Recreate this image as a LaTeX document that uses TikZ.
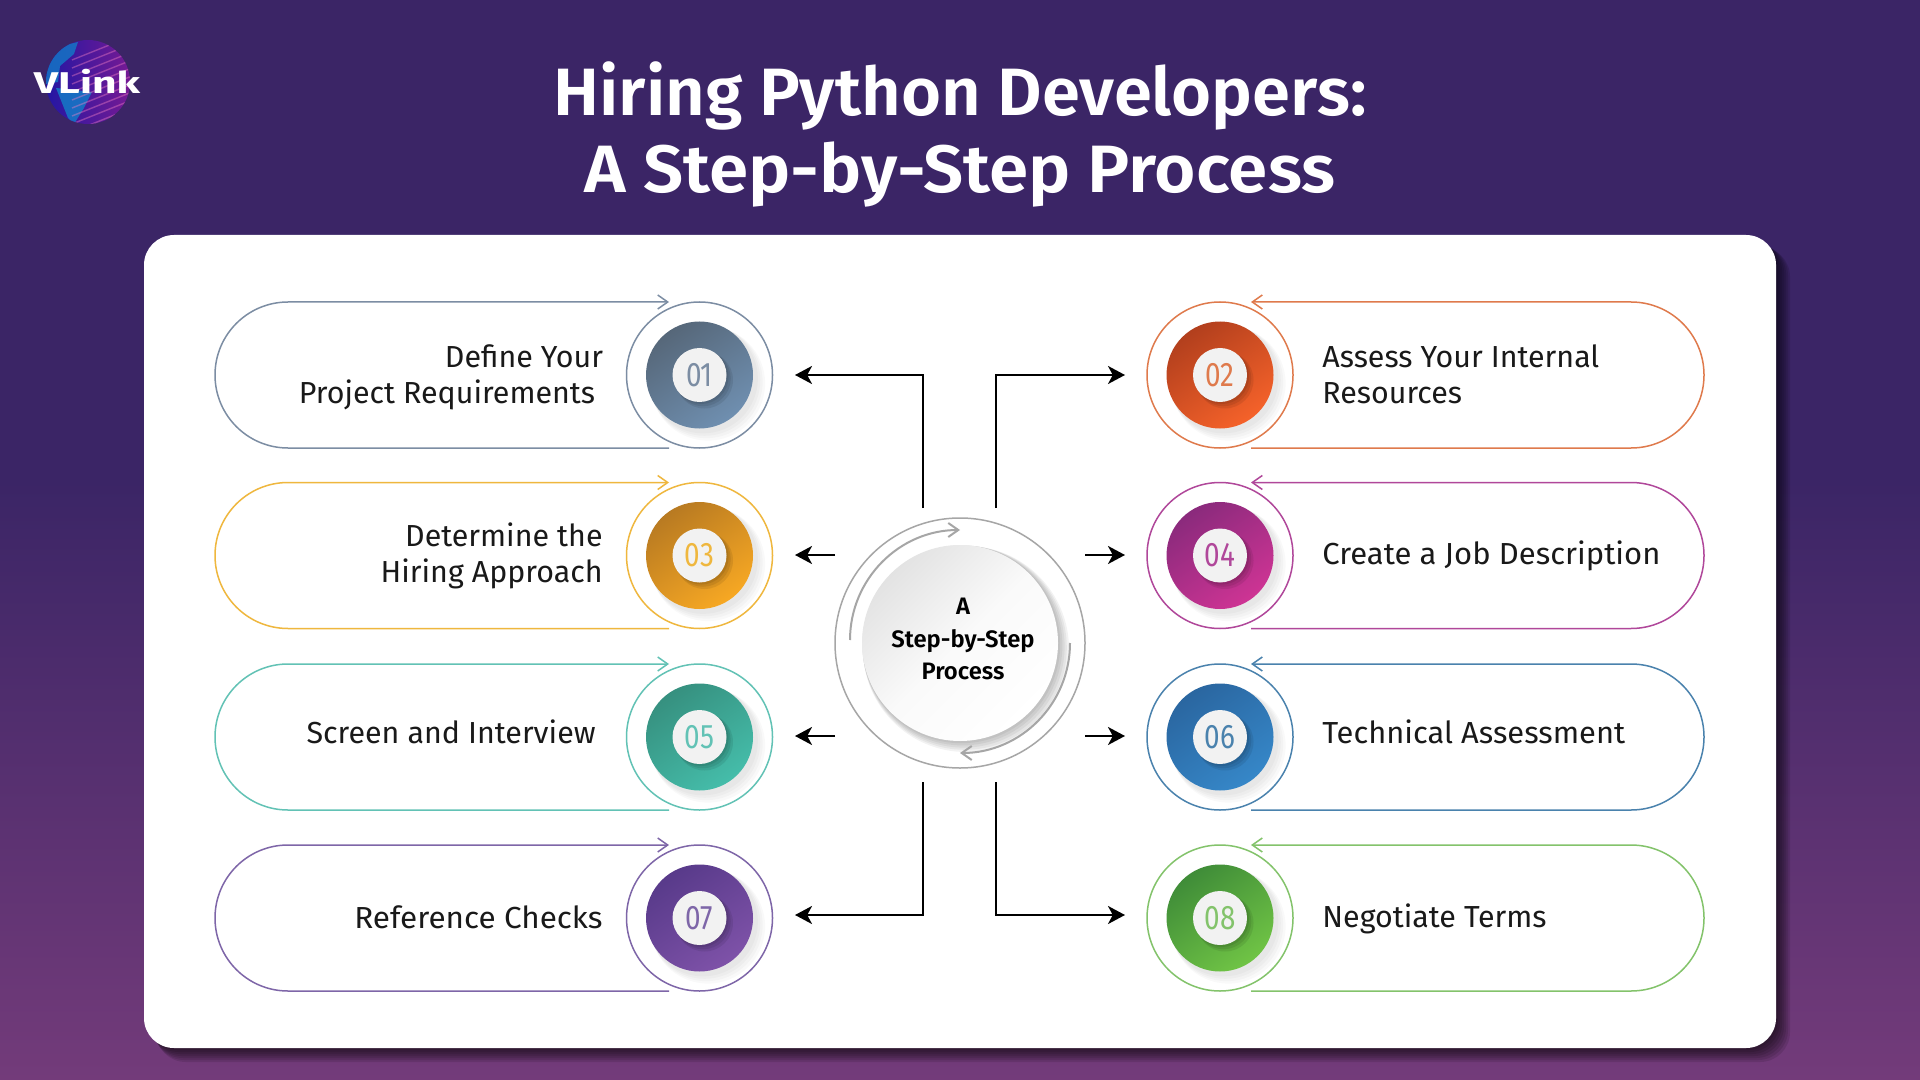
\documentclass[tikz,border=0pt]{standalone}
\usepackage{fontspec}
\setmainfont{Fira Sans}
\newfontfamily\medfont{Fira Sans SemiBold}
\usetikzlibrary{arrows.meta,calc}
\definecolor{bgtop}{HTML}{3B2566}
\definecolor{bgbot}{HTML}{733B7A}
\definecolor{lnA}{HTML}{7C8DA3}\definecolor{gaA}{HTML}{566779}\definecolor{gbA}{HTML}{6F8FB0}
\definecolor{lnB}{HTML}{DF7A4C}\definecolor{gaB}{HTML}{B23F1D}\definecolor{gbB}{HTML}{F5622A}
\definecolor{lnC}{HTML}{EFB73E}\definecolor{gaC}{HTML}{B87A22}\definecolor{gbC}{HTML}{F7A823}
\definecolor{lnD}{HTML}{B0479A}\definecolor{gaD}{HTML}{8A2A7C}\definecolor{gbD}{HTML}{CE3494}
\definecolor{lnE}{HTML}{62C2B5}\definecolor{gaE}{HTML}{36907F}\definecolor{gbE}{HTML}{45BDAA}
\definecolor{lnF}{HTML}{4A82AD}\definecolor{gaF}{HTML}{2A66A0}\definecolor{gbF}{HTML}{3687C8}
\definecolor{lnG}{HTML}{7E66A8}\definecolor{gaG}{HTML}{583A8A}\definecolor{gbG}{HTML}{7E52A8}
\definecolor{lnH}{HTML}{83C36B}\definecolor{gaH}{HTML}{3F8C38}\definecolor{gbH}{HTML}{70C445}
\tikzset{
 conn/.style={line width=1.1pt,-{Stealth[length=8.5pt,width=9pt,inset=2.4pt]},black},
 steptext/.style={font=\fontsize{15.2}{18}\selectfont,text=black!90,align=#1,inner sep=0pt},
 pillline/.style={line width=0.75pt},
 opentip/.style={-{Straight Barb[length=5pt,width=7pt]}},
 titletext/.style={inner sep=0pt,text=white,font=\medfont\fontsize{33.5}{38.5}\selectfont,anchor=base},
}
\newcommand{\hs}[2]{\scalebox{#1}[1]{#2}}
\newcommand{\bdg}[7]{%
  \foreach \k in {8,6,4,2}{\fill[black,opacity=0.025] (#2+\k*0.8+2,#3+\k*0.8+2) circle[radius=54+\k*0.4];}
  \shade[left color=#5,right color=#6,shading angle=35] (#2,#3) circle[radius=53.5];
  \foreach \k in {5,3.5,2}{\fill[black,opacity=0.08] (#2+\k,#3+\k) circle[radius=26+0.5*\k];}
  \node[circle,fill=white!95!black,minimum size=27pt,inner sep=0pt,text=#4,font=\fontsize{17}{17}\selectfont] (#1) at (#2,#3) {\scalebox{0.82}[1]{#7}};
}
\begin{document}
\begin{tikzpicture}[x=0.5pt,y=-0.5pt]
\useasboundingbox (0,0) rectangle (1920,1080);
\fill[bgtop] (0,0) rectangle (1920,480);
\shade[top color=bgtop,bottom color=bgbot] (0,480) rectangle (1920,1080);
% logo
\begin{scope}
\clip (88,82) circle[radius=42];
\shade[left color=blue!40!bgtop,right color=bgtop!70!magenta] (46,40) rectangle (130,124);
\fill[cyan!55!blue,opacity=0.85] (46,50) -- (78,42) -- (74,54) -- (60,66) -- (58,82) -- (46,84) -- cycle;
\fill[cyan!55!blue,opacity=0.9] (56,88) -- (92,92) -- (84,108) -- (74,124) -- (68,118) -- cycle;
\foreach \yy in {46,54,...,134}{\draw[white!50!magenta,opacity=0.4,line width=0.7pt] (72,\yy+14) -- (132,\yy-10);}
\end{scope}
\node[inner sep=0pt,text=white,font=\bfseries\fontsize{15}{15}\selectfont] (logo) at (87,81) {\scalebox{1.42}[1]{VLink}};
% title
\node[titletext] (title1) at (960,116) {\hs{1.025}{Hiring Python Developers:}};
\node[titletext] (title2) at (960,193) {\hs{1.06}{A Step-by-Step Process}};
% card shadow and card
\foreach \k in {14,12,10,8,6,4,2}{\fill[black,opacity=0.11,rounded corners=15pt] (146+\k*0.7,237+\k*0.7) rectangle (1776+\k,1048+\k);}
\fill[white,rounded corners=15pt] (144,235) rectangle (1776,1048);
% pills
\foreach \cy/\col in {375/lnA,555.5/lnC,737/lnE,918/lnG}{
  \draw[pillline,opentip,\col] (669,\cy+73) -- (288,\cy+73) arc[start angle=90,end angle=270,radius=73] -- (669,\cy-73);
  \draw[pillline,\col] (699.5,\cy) circle[radius=73];
}
\foreach \cy/\col in {375/lnB,555.5/lnD,737/lnF,918/lnH}{
  \draw[pillline,opentip,\col] (1251,\cy+73) -- (1631,\cy+73) arc[start angle=90,end angle=-90,radius=73] -- (1251,\cy-73);
  \draw[pillline,\col] (1220,\cy) circle[radius=73];
}
% badges
\def\Lx{699.5}\def\Rx{1220}
\bdg{b1}{\Lx}{375}{lnA}{gaA}{gbA}{01}
\bdg{b2}{\Rx}{375}{lnB}{gaB}{gbB}{02}
\bdg{b3}{\Lx}{555.5}{lnC}{gaC}{gbC}{03}
\bdg{b4}{\Rx}{555.5}{lnD}{gaD}{gbD}{04}
\bdg{b5}{\Lx}{737}{lnE}{gaE}{gbE}{05}
\bdg{b6}{\Rx}{737}{lnF}{gaF}{gbF}{06}
\bdg{b7}{\Lx}{918}{lnG}{gaG}{gbG}{07}
\bdg{b8}{\Rx}{918}{lnH}{gaH}{gbH}{08}
% labels
\node[steptext=right,anchor=east] (t1) at (603.5,377.4) {Define Your\\Project Requirements\hspace*{4pt}};
\node[steptext=right,anchor=east] (t3) at (603,555.7) {Determine the\\Hiring Approach};
\node[steptext=right,anchor=east] (t5) at (596,731.8) {Screen and Interview};
\node[steptext=right,anchor=east] (t7) at (603,916.8) {\hs{1.035}{Reference Checks}};
\node[steptext=left,anchor=west] (t2) at (1322,373.8) {Assess Your Internal\\Resources};
\node[steptext=left,anchor=west] (t4) at (1322,555.4) {\hs{1.02}{Create a Job Description}};
\node[steptext=left,anchor=west] (t6) at (1322,731.8) {\hs{1.015}{Technical Assessment}};
\node[steptext=left,anchor=west] (t8) at (1322,919.2) {Negotiate Terms};
% centre
\draw[line width=0.75pt,black!35] (960,643) circle[radius=125];
\foreach \k in {10,8,6,4,2}{\fill[black,opacity=0.05] (960+\k*0.6,643+\k*0.6) circle[radius=98+\k*0.5];}
\shade[left color=black!11,right color=white,middle color=white!98!black,shading angle=45] (960,643) circle[radius=98];
\draw[line width=1pt,black!35,-{Straight Barb[length=5pt,width=7pt]}] (850,640) arc[start angle=180,end angle=270,radius=110];
\draw[line width=1pt,black!35,-{Straight Barb[length=5pt,width=7pt]}] (1070,643) arc[start angle=0,end angle=90,radius=110];
\node[inner sep=0pt,align=center,text=black,font=\medfont\fontsize{11.9}{16.2}\selectfont] (hub) at (963,639) {A\\Step-by-Step\\Process};
% connectors
\coordinate (s1) at (923,508);\coordinate (k1) at (923,375);\coordinate (e1) at (795,375);
\coordinate (s2) at (996,508);\coordinate (k2) at (996,375);\coordinate (e2) at (1125,375);
\coordinate (s3) at (835,555);\coordinate (e3) at (795,555);
\coordinate (s4) at (1085,555);\coordinate (e4) at (1125,555);
\coordinate (s5) at (835,736);\coordinate (e5) at (795,736);
\coordinate (s6) at (1085,736);\coordinate (e6) at (1125,736);
\coordinate (s7) at (923,782);\coordinate (k7) at (923,915);\coordinate (e7) at (795,915);
\coordinate (s8) at (996,782);\coordinate (k8) at (996,915);\coordinate (e8) at (1125,915);
\draw[conn] (s1) -- (k1) -- (e1);
\draw[conn] (s2) -- (k2) -- (e2);
\draw[conn] (s3) -- (e3);
\draw[conn] (s4) -- (e4);
\draw[conn] (s5) -- (e5);
\draw[conn] (s6) -- (e6);
\draw[conn] (s7) -- (k7) -- (e7);
\draw[conn] (s8) -- (k8) -- (e8);
\end{tikzpicture}
\end{document}
